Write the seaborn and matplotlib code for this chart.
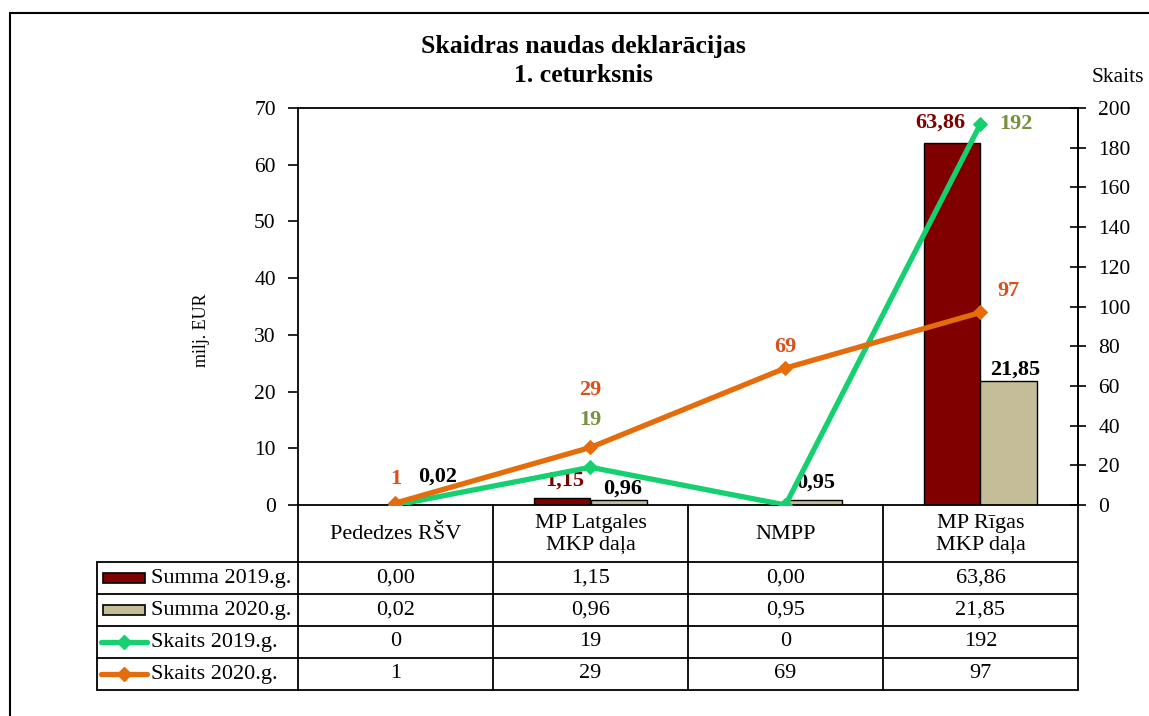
import numpy as np
import pandas as pd
import matplotlib
matplotlib.use('Agg')
import matplotlib.pyplot as plt
import seaborn as sns
from matplotlib.patches import Rectangle
from matplotlib.lines import Line2D

# data
categories = ['Pededzes RŠV', 'MP Latgales\nMKP daļa', 'NMPP', 'MP Rīgas\nMKP daļa']
summa_2019 = [0.00, 1.15, 0.00, 63.86]
summa_2020 = [0.02, 0.96, 0.95, 21.85]
skaits_2019 = [0, 19, 0, 192]
skaits_2020 = [1, 29, 69, 97]
series_names = ['Summa 2019.g.', 'Summa 2020.g.', 'Skaits 2019.g.', 'Skaits 2020.g.']
left_ticks = list(range(0, 71, 10))
right_ticks = list(range(0, 201, 20))

RED = '#800000'
TAN = '#C4BD97'
GREEN = '#14D06E'
ORANGE = '#E46C0A'
ORANGE_TXT = '#D9501A'
OLIVE_TXT = '#76923C'

sns.set_style('white')
plt.rcParams['font.family'] = ['Liberation Serif', 'DejaVu Serif']
plt.rcParams['text.color'] = 'black'
plt.rcParams['axes.labelcolor'] = 'black'

# layout in pixels
W, H = 1149, 716
PL, PR, PT, PB = 298, 1078, 108, 505
TL, TB = 97, 690
FS = 15.5
TFS = 16

fig = plt.figure(figsize=(W / 100, H / 100), dpi=100)
ax = fig.add_axes([PL / W, 1 - PB / H, (PR - PL) / W, (PB - PT) / H])

df = pd.DataFrame({
    'cat': categories * 2,
    'val': summa_2019 + summa_2020,
    'year': ['2019'] * len(categories) + ['2020'] * len(categories),
})
sns.barplot(data=df, x='cat', y='val', hue='year', palette=[RED, TAN],
            width=0.58, edgecolor='black', linewidth=1, saturation=1,
            legend=False, ax=ax)
ax.set_xlim(-0.5, len(categories) - 0.5)
ax.set_ylim(0, 70)
ax.set_yticks(left_ticks)
ax.set_xticks([])
ax.set_xlabel('')
ax.set_ylabel('milj. EUR', fontsize=13, color='black')
ax.yaxis.set_label_coords((210 - PL) / (PR - PL), (PB - 330) / (PB - PT))
ax.tick_params(axis='y', direction='out', length=7, width=1.2, labelsize=FS, pad=9, colors='black')
for s in ax.spines.values():
    s.set_color('black')
    s.set_linewidth(1.3)

ax2 = ax.twinx()
x = np.arange(len(categories))
sns.lineplot(x=x, y=skaits_2019, color=GREEN, marker='D', markersize=7,
             markeredgecolor=GREEN, linewidth=3.8, ax=ax2)
sns.lineplot(x=x, y=skaits_2020, color=ORANGE, marker='D', markersize=7,
             markeredgecolor=ORANGE, linewidth=3.8, ax=ax2)
ax2.set_ylim(0, 200)
ax2.set_yticks(right_ticks)
ax2.tick_params(axis='y', direction='inout', length=11, width=1.2, labelsize=FS, pad=9, colors='black')
for s in ax2.spines.values():
    s.set_visible(False)
ax2.spines['right'].set_visible(True)
ax2.spines['right'].set_color('black')
ax2.spines['right'].set_linewidth(1.3)

# data labels (offsets in pixels)
bw = 0.29
lab = dict(textcoords='offset pixels', ha='center', va='center',
           fontsize=16, fontweight='bold')
bar19_off = {1: (3, -18), 3: (-12, -20)}
for i, v in enumerate(summa_2019):
    if i in bar19_off:
        dx, dy = bar19_off[i]
        ax.annotate(f'{v:.2f}'.replace('.', ','), (i - bw / 2, v), xytext=(dx, -dy),
                    color=RED, **lab)
bar20_off = [(14, -28), (4, -11), (2, -17), (6, -11)]
for i, v in enumerate(summa_2020):
    dx, dy = bar20_off[i]
    ax.annotate(f'{v:.2f}'.replace('.', ','), (i + bw / 2, v), xytext=(dx, -dy),
                color='black', **lab)
s19_off = {1: (0, -47), 3: (35, 0)}
for i, v in enumerate(skaits_2019):
    if i in s19_off:
        dx, dy = s19_off[i]
        ax2.annotate(str(v), (i, v), xytext=(dx, -dy), color=OLIVE_TXT, **lab)
s20_off = [(0, -24), (0, -57), (0, -21), (28, -21)]
for i, v in enumerate(skaits_2020):
    dx, dy = s20_off[i]
    ax2.annotate(str(v), (i, v), xytext=(dx, -dy), color=ORANGE_TXT, **lab)

# titles
fig.text(583 / W, 1 - 47 / H, 'Skaidras naudas deklarācijas', ha='center', va='center',
         fontsize=18.5, fontweight='bold', color='black')
fig.text(583 / W, 1 - 76 / H, '1. ceturksnis', ha='center', va='center',
         fontsize=18.5, fontweight='bold', color='black')
fig.text(1118 / W, 1 - 77 / H, 'Skaits', ha='center', va='center', fontsize=FS, color='black')

# data table
tab = fig.add_axes([TL / W, 1 - TB / H, (PR - TL) / W, (TB - PB) / H])
tab.set_xlim(TL, PR)
tab.set_ylim(TB, PB)
tab.axis('off')
col_w = (PR - PL) / len(categories)
head_b = 562
row_h = (TB - head_b) / len(series_names)
lk = dict(color='black', lw=1.3, clip_on=False)
for j in range(len(categories) + 1):
    tab.plot([PL + j * col_w] * 2, [PB, TB], **lk)
tab.plot([TL, TL], [head_b, TB], **lk)
for r in range(len(series_names) + 1):
    yy = head_b + r * row_h
    tab.plot([TL, PR], [yy, yy], **lk)

for j, c in enumerate(categories):
    tab.text(PL + (j + 0.5) * col_w, (PB + head_b) / 2 + 1, c, ha='center', va='center',
             fontsize=TFS, linespacing=1.15, color='black')

rows = [
    [f'{v:.2f}'.replace('.', ',') for v in summa_2019],
    [f'{v:.2f}'.replace('.', ',') for v in summa_2020],
    [str(v) for v in skaits_2019],
    [str(v) for v in skaits_2020],
]
for r, (name, vals) in enumerate(zip(series_names, rows)):
    yc = head_b + (r + 0.5) * row_h
    for j, t in enumerate(vals):
        tab.text(PL + (j + 0.5) * col_w, yc, t, ha='center', va='center',
                 fontsize=TFS, color='black')
    tab.text(151, yc, name, ha='left', va='center', fontsize=TFS, color='black')
    if r < 2:
        tab.add_patch(Rectangle((103, yc - 5), 42, 10, facecolor=[RED, TAN][r],
                                edgecolor='black', lw=1.2, clip_on=False))
    else:
        colr = [GREEN, ORANGE][r - 2]
        tab.add_line(Line2D([101, 147], [yc, yc], color=colr, lw=3.8, clip_on=False))
        tab.add_line(Line2D([124], [yc], color=colr, marker='D', markersize=7, clip_on=False))

# outer chart frame
fig.add_artist(Rectangle((10 / W, -0.1), 2, 1 - 13 / H + 0.1, transform=fig.transFigure,
                         fill=False, edgecolor='black', lw=1.5))

fig.savefig('out.png', dpi=100)
